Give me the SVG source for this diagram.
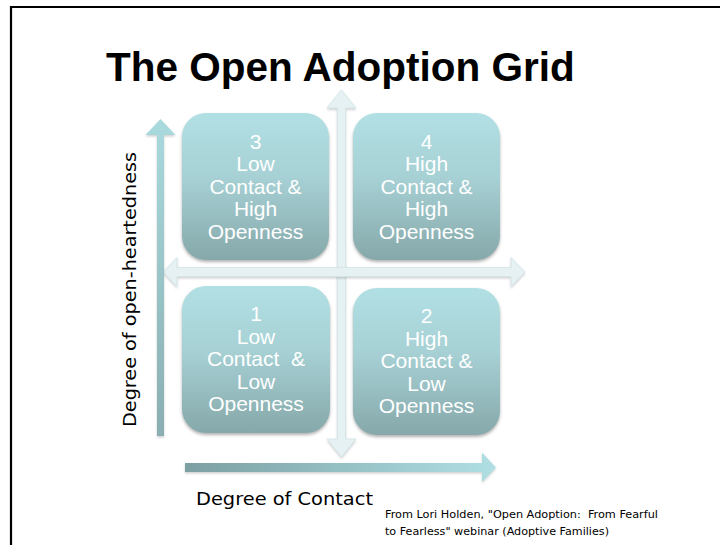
<svg xmlns="http://www.w3.org/2000/svg" width="720" height="545" viewBox="0 0 720 545">
  <defs>
    <linearGradient id="boxFill" x1="0" y1="0" x2="0" y2="1">
      <stop offset="0" stop-color="#b1e0e4"/>
      <stop offset="0.45" stop-color="#a6d0d4"/>
      <stop offset="1" stop-color="#86a8aa"/>
    </linearGradient>
    <linearGradient id="yAxisFill" x1="0" y1="0" x2="0" y2="1">
      <stop offset="0" stop-color="#a9dade"/>
      <stop offset="1" stop-color="#8aaeb1"/>
    </linearGradient>
    <linearGradient id="xAxisFill" x1="0" y1="0" x2="1" y2="0">
      <stop offset="0" stop-color="#7c9fa2"/>
      <stop offset="0.55" stop-color="#97c3c7"/>
      <stop offset="1" stop-color="#b0dfe3"/>
    </linearGradient>
    <filter id="shadow" x="-10%" y="-10%" width="120%" height="125%">
      <feDropShadow dx="0" dy="2" stdDeviation="1.6" flood-color="#555" flood-opacity="0.45"/>
    </filter>
    <filter id="softShadow" x="-10%" y="-10%" width="120%" height="125%">
      <feDropShadow dx="0" dy="1.5" stdDeviation="1" flood-color="#777" flood-opacity="0.35"/>
    </filter>
  </defs>
  <style>
    .frame { stroke: #000; stroke-width: 2.2; fill: none; }
    .title { font-family: "Liberation Sans", Arial, sans-serif; font-weight: bold; font-size: 40.5px; fill: #000; }
    .box { fill: url(#boxFill); filter: url(#shadow); }
    .boxText { font-family: "Liberation Sans", Arial, sans-serif; font-size: 21px; fill: #fff; text-anchor: middle; }
    .gridArrow { fill: #e5f1f3; stroke: #d3e3e6; stroke-width: 0.8; filter: url(#softShadow); }
    .axisLabel { font-family: "DejaVu Sans", "Liberation Sans", sans-serif; font-size: 18px; fill: #000; }
    .credit { font-family: "DejaVu Sans", "Liberation Sans", sans-serif; font-size: 10px; fill: #000; }
  </style>

  <!-- slide frame: top and left edges -->
  <path class="frame" d="M11 545 V7 H720"/>

  <text class="title" x="106" y="81">The Open Adoption Grid</text>

  <!-- connectors: the grid cross and the two axes -->
  <g id="connectors">
    <polygon class="gridArrow" points="341.5,90 356,108 345.5,108 345.5,439 356,439 341.5,457 327,439 337.5,439 337.5,108 327,108"/>
    <polygon class="gridArrow" points="163,272 177,257.5 177,267.5 511,267.5 511,257.5 525,272 511,286.5 511,276.5 177,276.5 177,286.5"/>
    <polygon fill="url(#yAxisFill)" filter="url(#softShadow)" points="160.5,119 175.5,135 164,135 164,436 157,436 157,135 145.5,135"/>
    <polygon fill="url(#xAxisFill)" filter="url(#softShadow)" points="185,463 482,463 482,452.5 496,467.5 482,482 482,472 185,472"/>
  </g>

  <g id="quadrant-3">
    <rect class="box" x="182" y="113" width="147" height="147" rx="24"/>
    <text class="boxText"><tspan x="255.5" y="148.5">3</tspan><tspan x="255.5" y="171">Low</tspan><tspan x="255.5" y="193.5">Contact &amp;</tspan><tspan x="255.5" y="216">High</tspan><tspan x="255.5" y="238.5">Openness</tspan></text>
  </g>

  <g id="quadrant-4">
    <rect class="box" x="353" y="113" width="147" height="147" rx="24"/>
    <text class="boxText"><tspan x="426.5" y="148.5">4</tspan><tspan x="426.5" y="171">High</tspan><tspan x="426.5" y="193.5">Contact &amp;</tspan><tspan x="426.5" y="216">High</tspan><tspan x="426.5" y="238.5">Openness</tspan></text>
  </g>

  <g id="quadrant-1">
    <rect class="box" x="182" y="286" width="148" height="147" rx="24"/>
    <text class="boxText"><tspan x="256" y="321">1</tspan><tspan x="256" y="343.5">Low</tspan><tspan x="256" y="366">Contact &#160;&amp;</tspan><tspan x="256" y="388.5">Low</tspan><tspan x="256" y="411">Openness</tspan></text>
  </g>

  <g id="quadrant-2">
    <rect class="box" x="353" y="288" width="147" height="147" rx="24"/>
    <text class="boxText"><tspan x="426.5" y="323">2</tspan><tspan x="426.5" y="345.5">High</tspan><tspan x="426.5" y="368">Contact &amp;</tspan><tspan x="426.5" y="390.5">Low</tspan><tspan x="426.5" y="413">Openness</tspan></text>
  </g>

  <!-- axis labels -->
  <text class="axisLabel" transform="translate(135.5,427) rotate(-90)" x="0" y="0" textLength="275" lengthAdjust="spacingAndGlyphs">Degree of open-heartedness</text>
  <text class="axisLabel" x="196" y="505" textLength="177" lengthAdjust="spacingAndGlyphs">Degree of Contact</text>

  <!-- source note -->
  <text class="credit" x="385" y="518" textLength="273" lengthAdjust="spacingAndGlyphs">From Lori Holden, "Open Adoption: &#160;From Fearful</text>
  <text class="credit" x="385" y="535" textLength="224" lengthAdjust="spacingAndGlyphs">to Fearless" webinar (Adoptive Families)</text>
</svg>
